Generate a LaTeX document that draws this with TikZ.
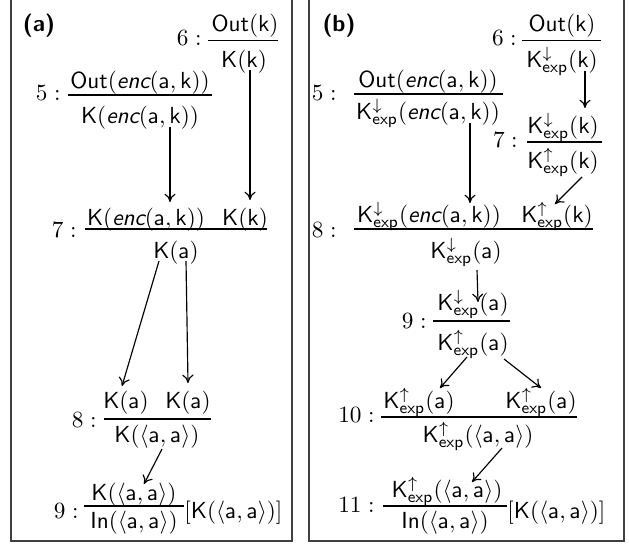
\documentclass[tikz,border=0pt]{standalone}
\usetikzlibrary{arrows.meta,calc}
\newcommand\xK{\mathsf{K}}
\newcommand\xOut{\mathsf{Out}}
\newcommand\xIn{\mathsf{In}}
\newcommand\xa{\mathsf{a}}
\newcommand\xk{\mathsf{k}}
\newcommand\xenc{\textsf{\slshape enc}}
\newcommand\xKd{\mathsf{K}^{\downarrow}_{\mathsf{exp}}}
\newcommand\xKu{\mathsf{K}^{\uparrow}_{\mathsf{exp}}}
\newcommand\xaa{\langle\xa,\xa\rangle}
\begin{document}
\begin{tikzpicture}[x=0.43pt,y=-0.43pt,
  term/.style={inner sep=0pt,anchor=base},
  lab/.style={inner sep=0pt,anchor=base east},
  tag/.style={inner sep=0pt,anchor=base,font=\sffamily\bfseries},
  bar/.style={line width=0.5pt},
  arr/.style={line width=0.5pt,-{To[length=3.6pt,width=4.8pt]}},
  frame/.style={line width=0.8pt,draw=black!75}]
\useasboundingbox (0,0) rectangle (629,546);
\draw[frame] (11,-5) rectangle (292,541);
\draw[frame] (309,-5) rectangle (624,541);
% ---------- (a)
\node[tag] (la) at (39,31) {(a)};
\node[lab] (a6l) at (202,45) {$6:$};
\node[term] (a6n) at (245,31) {$\xOut(\xk)$};
\node[term] (a6d) at (244,67) {$\xK(\xk)$};
\draw[bar] (208,40.5) -- (278,40.5);
\node[lab] (a5l) at (61,100) {$5:$};
\node[term] (a5n) at (140,88) {$\xOut(\xenc(\xa,\xk))$};
\node[term] (a5d) at (140,123) {$\xK(\xenc(\xa,\xk))$};
\draw[bar] (68,95) -- (212,95);
\node[lab] (a7l) at (77,237) {$7:$};
\node[term] (a7p) at (146,225) {$\xK(\xenc(\xa,\xk))$};
\node[term] (a7q) at (245,225) {$\xK(\xk)$};
\node[term] (a7c) at (176,258) {$\xK(\xa)$};
\draw[bar] (85,229) -- (267,229);
\node[lab] (a8l) at (97,427) {$8:$};
\node[term] (a8p) at (126,408) {$\xK(\xa)$};
\node[term] (a8q) at (188,408) {$\xK(\xa)$};
\node[term] (a8c) at (157,442) {$\xK(\xaa)$};
\draw[bar] (104,419) -- (211,419);
\node[lab] (a9l) at (79,518) {$9:$};
\node[term] (a9n) at (134,500) {$\xK(\xaa)$};
\node[term] (a9d) at (134,528) {$\xIn(\xaa)$};
\node[term,anchor=base west] (a9s) at (184,518) {$[\xK(\xaa)]$};
\draw[bar] (84,506) -- (184,506);
\draw[arr] ($(a5d.base)+(30,4)$) -- ($(a7p.base)+(24,-23)$);
\draw[arr] ($(a6d.base)+(6,3)$) -- ($(a7q.base)+(5,-25)$);
\draw[arr] ($(a7c.base)+(-17,3)$) -- ($(a8p.base)+(-4,-22)$);
\draw[arr] ($(a7c.base)+(10,3)$) -- ($(a8q.base)+(0,-25)$);
\draw[arr] ($(a8c.base)+(5,7)$) -- ($(a9n.base)+(10,-16)$);
% ---------- (b)
\node[tag] (lb) at (339,31) {(b)};
\node[lab] (b6l) at (517,45) {$6:$};
\node[term] (b6n) at (562,31) {$\xOut(\xk)$};
\node[term] (b6d) at (562,67) {$\xKd(\xk)$};
\draw[bar] (522,40.5) -- (601,40.5);
\node[lab] (b5l) at (337,100) {$5:$};
\node[term] (b5n) at (428,87) {$\xOut(\xenc(\xa,\xk))$};
\node[term] (b5d) at (428,119) {$\xKd(\xenc(\xa,\xk))$};
\draw[bar] (354,94) -- (503,94);
\node[lab] (b7l) at (518,147) {$7:$};
\node[term] (b7n) at (563,133) {$\xKd(\xk)$};
\node[term] (b7d) at (563,168) {$\xKu(\xk)$};
\draw[bar] (527,142) -- (602,142);
\node[lab] (b8l) at (337,237) {$8:$};
\node[term] (b8p) at (429,222) {$\xKd(\xenc(\xa,\xk))$};
\node[term] (b8q) at (557,222) {$\xKu(\xk)$};
\node[term] (b8c) at (466,258) {$\xKd(\xa)$};
\draw[bar] (354,229) -- (593,229);
\node[lab] (b9l) at (427,328) {$9:$};
\node[term] (b9n) at (473,310) {$\xKd(\xa)$};
\node[term] (b9d) at (473,350) {$\xKu(\xa)$};
\draw[bar] (433,321) -- (510,321);
\node[lab] (b10l) at (375,422) {$10:$};
\node[term] (b10p) at (419,408) {$\xKu(\xa)$};
\node[term] (b10q) at (541,408) {$\xKu(\xa)$};
\node[term] (b10c) at (478,442) {$\xKu(\xaa)$};
\draw[bar] (381,417) -- (577,417);
\node[lab] (b11l) at (375,512) {$11:$};
\node[term] (b11n) at (447,497) {$\xKu(\xaa)$};
\node[term] (b11d) at (445,528) {$\xIn(\xaa)$};
\node[term,anchor=base west] (b11s) at (507,518) {$[\xK(\xaa)]$};
\draw[bar] (383,506) -- (507,506);
\draw[arr] ($(b6d.base)+(23,4)$) -- ($(b7n.base)+(22,-25)$);
\draw[arr] ($(b5d.base)+(42,4)$) -- ($(b8p.base)+(41,-19)$);
\draw[arr] ($(b7d.base)+(19,9)$) -- ($(b8q.base)+(-2,-18)$);
\draw[arr] ($(b8c.base)+(11,12)$) -- ($(b9n.base)+(5,-8)$);
\draw[arr] ($(b9d.base)+(-6,7)$) -- ($(b10p.base)+(21,-20)$);
\draw[arr] ($(b9d.base)+(31,9)$) -- ($(b10q.base)+(0,-20)$);
\draw[arr] ($(b10c.base)+(24,6)$) -- ($(b11n.base)+(25,-15)$);
\end{tikzpicture}
\end{document}
